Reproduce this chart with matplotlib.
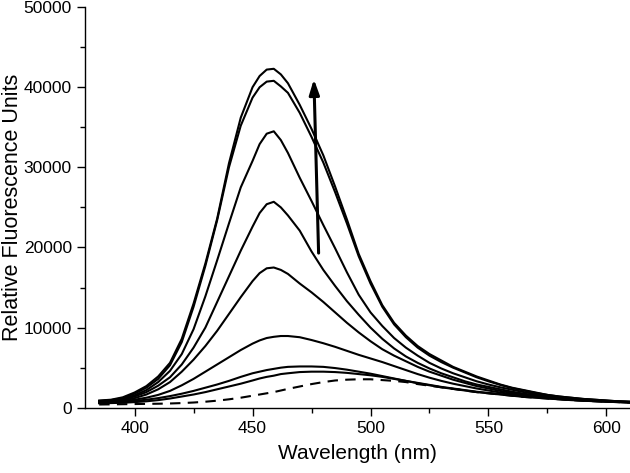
import numpy as np
import matplotlib
matplotlib.use("Agg")
import matplotlib.pyplot as plt
from matplotlib.ticker import MultipleLocator

plt.rcParams['font.family'] = ['Liberation Sans', 'DejaVu Sans']

# longueurs d'onde (nm) : pas de 5 nm, resserre autour du maximum
wl = [385, 390, 395, 400, 405, 410, 415, 420, 425, 430, 435, 440, 445, 450,
      453, 456, 459, 462, 465, 470, 475, 480, 485, 490, 495, 500, 505, 510, 515,
      520, 525, 530, 535, 540, 545, 550, 555, 560, 565, 570, 575, 580, 585, 590,
      595, 600, 605, 610]

# spectres (du plus intense au plus faible)
s1 = [900, 1000, 1300, 1900, 2700, 3900, 5600, 8600, 13000, 18000, 23600, 30500, 36200, 40000,
      41400, 42200, 42300, 41600, 40500, 37800, 34800, 31500, 27600, 23500, 19200, 15800, 12800,
      10600, 9000, 7700, 6700, 5900, 5100, 4500, 3900, 3400, 2900, 2500, 2200, 1900, 1600, 1400,
      1250, 1100, 1000, 900, 800, 750]
s2 = [850, 950, 1200, 1750, 2500, 3600, 5300, 8200, 12600, 17700, 23400, 30000, 35200, 38700,
      40000, 40700, 40800, 40100, 39300, 36800, 33800, 30600, 26900, 23000, 18900, 15500, 12600,
      10400, 8800, 7500, 6500, 5700, 5000, 4400, 3800, 3300, 2850, 2450, 2150, 1850, 1600, 1400,
      1250, 1100, 1000, 900, 800, 750]
s3 = [800, 900, 1100, 1550, 2200, 3200, 4600, 6700, 9800, 13900, 18400, 23000, 27500, 30800,
      32900, 34200, 34500, 33400, 31800, 28700, 25800, 22800, 19900, 16900, 14100, 11900, 10200,
      8700, 7500, 6500, 5600, 4900, 4300, 3800, 3300, 2900, 2550, 2250, 1950, 1700, 1500, 1300,
      1150, 1050, 950, 850, 780, 720]
s4 = [750, 850, 1000, 1400, 1950, 2750, 3800, 5400, 7500, 10000, 13200, 16400, 19600, 22600,
      24300, 25400, 25700, 25000, 24000, 22100, 19500, 17200, 15200, 13300, 11600, 10000, 8600,
      7400, 6400, 5600, 4900, 4300, 3800, 3300, 2900, 2600, 2300, 2000, 1750, 1550, 1400, 1250,
      1100, 1000, 900, 820, 750, 700]
s5 = [700, 780, 900, 1200, 1650, 2300, 3200, 4500, 6000, 7700, 9600, 11700, 13800, 15800,
      16800, 17400, 17500, 17200, 16700, 15500, 14400, 13200, 11900, 10600, 9400, 8300, 7300,
      6500, 5800, 5100, 4500, 4000, 3500, 3100, 2700, 2400, 2100, 1850, 1650, 1450, 1300, 1150,
      1050, 950, 870, 800, 730, 680]
s6 = [650, 700, 800, 1000, 1250, 1600, 2100, 2800, 3600, 4500, 5400, 6300, 7200, 8000,
      8400, 8700, 8850, 8950, 8950, 8800, 8450, 8050, 7600, 7100, 6600, 6150, 5700,
      5200, 4700, 4200, 3750, 3350, 3000, 2700, 2400, 2150, 1900, 1700, 1500, 1350, 1200, 1100,
      1000, 900, 830, 770, 710, 660]
s7 = [600, 650, 720, 850, 1000, 1200, 1450, 1750, 2100, 2500, 2900, 3350, 3850, 4300,
      4500, 4700, 4850, 5000, 5100, 5150, 5150, 5100, 4950, 4750, 4500, 4250, 3950,
      3650, 3350, 3050, 2800, 2550, 2350, 2150, 1950, 1800, 1650, 1500, 1350, 1250, 1150, 1050,
      950, 880, 810, 750, 700, 650]
s8 = [550, 580, 620, 700, 800, 950, 1150, 1400, 1650, 1950, 2300, 2650, 3000, 3400,
      3650, 3850, 4000, 4200, 4300, 4450, 4500, 4500, 4450, 4350, 4200, 4050, 3850,
      3600, 3350, 3100, 2850, 2600, 2400, 2200, 2000, 1850, 1700, 1550, 1400, 1300, 1200, 1100,
      1000, 920, 850, 780, 720, 670]
# sonde seule (tirets)
s0 = [400, 420, 440, 460, 480, 500, 530, 580, 650, 750, 880, 1050, 1250, 1500,
      1650, 1800, 1950, 2150, 2350, 2650, 2950, 3200, 3400, 3500, 3550, 3550, 3450,
      3350, 3200, 2950, 2750, 2550, 2350, 2150, 1950, 1800, 1650, 1500, 1350, 1250, 1150, 1050,
      950, 880, 810, 750, 700, 650]

spectres = [s1, s2, s3, s4, s5, s6, s7, s8]

# fleche : (x, y) du depart et de la pointe
fleche_debut = (478, 19300)
fleche_fin = (476, 41000)

fig = plt.figure(figsize=(6.3, 4.73), dpi=100)
ax = fig.add_axes([0.135, 0.138, 0.865, 0.847])

for s in spectres:
    ax.plot(wl, s, color='black', lw=1.5, solid_joinstyle='round')
ax.plot(wl, s0, color='black', lw=1.5, linestyle=(0, (5, 3.5)))

ax.annotate('', xy=fleche_fin, xytext=fleche_debut,
            arrowprops=dict(arrowstyle='-|>,head_length=0.9,head_width=0.3',
                            color='black', lw=2.2, shrinkA=0, shrinkB=0))

ax.set_xlim(379, 610)
ax.set_ylim(0, 50000)
ax.xaxis.set_major_locator(MultipleLocator(50))
ax.xaxis.set_minor_locator(MultipleLocator(25))
ax.yaxis.set_major_locator(MultipleLocator(10000))
ax.yaxis.set_minor_locator(MultipleLocator(5000))
ax.tick_params(which='major', direction='out', length=6, width=1, labelsize=12.5)
ax.tick_params(which='minor', direction='out', length=3.5, width=1)

for c in ['top', 'right']:
    ax.spines[c].set_visible(False)
for c in ['left', 'bottom']:
    ax.spines[c].set_linewidth(1)

ax.set_xlabel('Wavelength (nm)', fontsize=15, labelpad=6)
# titre de l'axe y colle au bord gauche comme sur l'original
fig.text(0.003, 0.138 + 0.847 / 2, 'Relative Fluorescence Units', fontsize=15.5,
         rotation=90, ha='left', va='center')

fig.savefig('out.png', dpi=100)
